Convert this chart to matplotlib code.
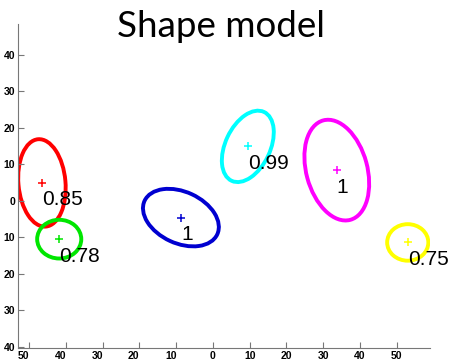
import matplotlib
matplotlib.use("Agg")
import matplotlib.pyplot as plt
import matplotlib.transforms as mtransforms
from matplotlib.patches import Ellipse
from matplotlib.ticker import FuncFormatter

# ellipse centres, sizes and scores
cx = [-46.5, -41.8, -8.7, 9.5, 33.7, 53.0]
cy = [4.9, -10.5, -4.6, 14.9, 8.4, -11.4]
ew = [24.0, 12.0, 21.8, 20.8, 28.2, 11.2]
eh = [12.8, 10.6, 14.1, 12.2, 16.6, 10.0]
ang = [95, 0, -25, 65, 105, 0]
scores = ["0.85", "0.78", "1", "0.99", "1", "0.75"]
colors = ["#ff0000", "#00e600", "#0000d0", "#00ffff", "#ff00ff", "#ffff00"]

fig = plt.figure(figsize=(4.51, 3.64), dpi=100)
ax = fig.add_axes([0.040, 0.044, 0.913, 0.890])

for i in range(len(cx)):
    e = Ellipse((cx[i], cy[i]), ew[i], eh[i], angle=ang[i], fill=False,
                edgecolor=colors[i], linewidth=2.8)
    ax.add_patch(e)
    ax.plot(cx[i], cy[i], '+', color=colors[i], markersize=5.5, mew=1.1)
    ax.annotate(scores[i], (cx[i], cy[i]), xytext=(0, -17), textcoords='offset pixels',
                ha='left', va='center', fontsize=15, family='Liberation Sans')

ax.set_xlim(-53, 59)
ax.set_ylim(-40.3, 48.4)
ax.set_xticks(range(-50, 51, 10))
ax.set_yticks(range(-40, 41, 10))
fmt = FuncFormatter(lambda v, p: f"{abs(v):g}")
ax.xaxis.set_major_formatter(fmt)
ax.yaxis.set_major_formatter(fmt)
ax.tick_params(direction='in', length=4, width=0.8, color='#777777', labelsize=7.5, pad=2)
for lab in ax.get_xticklabels() + ax.get_yticklabels():
    lab.set_family('Liberation Sans')
    lab.set_fontweight('bold')
# negative x labels sit a little left of their ticks in the original
shift = mtransforms.ScaledTranslation(-0.055, 0, fig.dpi_scale_trans)
for t, lab in zip(ax.get_xticks(), ax.get_xticklabels()):
    if t < 0:
        lab.set_transform(lab.get_transform() + shift)
ax.spines['top'].set_visible(False)
ax.spines['right'].set_visible(False)
ax.spines['left'].set_color('#777777')
ax.spines['bottom'].set_color('#777777')

fig.text(0.49, 0.897, "Shape model", ha='center', va='baseline', fontsize=26.5, family='Lato')

fig.savefig("out.png", dpi=100)
